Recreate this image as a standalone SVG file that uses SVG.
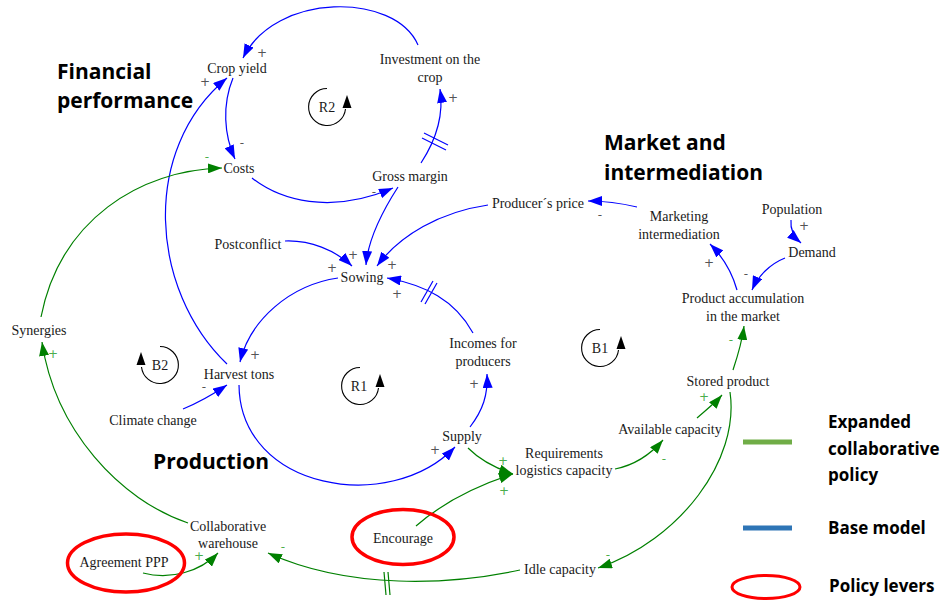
<svg xmlns="http://www.w3.org/2000/svg" width="948" height="600" viewBox="0 0 948 600">
  <style>
    .lbl { font-family: "Liberation Serif", "Times New Roman", serif; font-size: 14px; fill: #1a1a1a; text-anchor: middle; }
    .head { font-family: "Open Sans", "Liberation Sans", sans-serif; font-weight: bold; font-size: 21px; fill: #000; }
    .leg { font-family: "Open Sans", "Liberation Sans", sans-serif; font-weight: bold; font-size: 17px; fill: #000; }
    .loop { font-family: "Liberation Serif", "Times New Roman", serif; font-size: 14px; fill: #1a1a1a; text-anchor: middle; }
    .pb { font-family: "DejaVu Sans", sans-serif; font-size: 12px; fill: #555; text-anchor: middle; }
    .pg { font-family: "DejaVu Sans", sans-serif; font-size: 12px; fill: #4cae4c; text-anchor: middle; }
    .blue { fill: none; stroke: #0000ff; stroke-width: 1.2; marker-end: url(#ab); }
    .green { fill: none; stroke: #008000; stroke-width: 1.2; marker-end: url(#ag); }
    .dlyb { stroke: #0000ff; stroke-width: 1.2; }
    .dlyg { stroke: #008000; stroke-width: 1.2; }
    .lever { fill: none; stroke: #ff0000; stroke-width: 3.5; }
    .ring { fill: none; stroke: #000; stroke-width: 1.1; }
  </style>
  <defs>
    <marker id="ab" markerUnits="userSpaceOnUse" markerWidth="14" markerHeight="10" refX="14" refY="5" orient="auto">
      <path d="M0,0 L14,5 L0,10 z" fill="#0000ff"/>
    </marker>
    <marker id="ag" markerUnits="userSpaceOnUse" markerWidth="14" markerHeight="10" refX="14" refY="5" orient="auto">
      <path d="M0,0 L14,5 L0,10 z" fill="#008000"/>
    </marker>
  </defs>
  <rect width="948" height="600" fill="#fff"/>

  <!-- section headings -->
  <text class="head" x="57" y="79">Financial</text>
  <text class="head" x="57" y="108">performance</text>
  <text class="head" x="604" y="150">Market and</text>
  <text class="head" x="604" y="180">intermediation</text>
  <text class="head" x="153" y="469">Production</text>

  <!-- connectors -->
  <g id="connectors">
    <path class="blue" d="M418,45 C395,-8 275,-8 243,58"/>
    <path class="blue" d="M233,78 C222,105 224,135 235,159"/>
    <path class="blue" d="M252,178 C280,200 330,215 393,188"/>
    <path class="blue" d="M421,163 C436,140 444,115 440,89"/>
    <path class="blue" d="M398,187 C380,215 368,240 366,265"/>
    <path class="blue" d="M285,241 C310,240 335,250 352,266"/>
    <path class="blue" d="M488,205 C440,212 400,235 377,266"/>
    <path class="blue" d="M473,333 C455,300 425,285 387,278"/>
    <path class="blue" d="M338,278 C290,285 250,320 240,362"/>
    <path class="blue" d="M239,385 C240,490 390,515 455,447"/>
    <path class="blue" d="M470,427 C483,410 488,395 487,374"/>
    <path class="blue" d="M227,364 C150,290 140,150 227,78"/>
    <path class="blue" d="M183,409 C200,402 215,393 227,385"/>
    <path class="blue" d="M637,207 C620,203 605,201 588,201"/>
    <path class="blue" d="M737,290 C732,272 722,256 710,244"/>
    <path class="blue" d="M785,258 C770,264 758,276 752,290"/>
    <path class="blue" d="M791,220 C790,230 794,237 801,243"/>

    <path class="green" d="M41,317 C60,220 140,170 222,168"/>
    <path class="green" d="M188,523 C120,500 55,430 42,342"/>
    <path class="green" d="M143,573 C170,580 200,572 218,553"/>
    <path class="green" d="M520,570 C450,585 350,590 268,553"/>
    <path class="green" d="M730,392 C740,460 680,540 598,568"/>
    <path class="green" d="M697,418 C706,410 715,403 722,395"/>
    <path class="green" d="M733,370 C738,355 742,342 744,326"/>
    <path class="green" d="M615,469 C635,465 650,455 663,440"/>
    <path class="green" d="M468,448 C480,460 495,468 513,474"/>
    <path class="green" d="M416,526 C440,505 470,488 513,474"/>

    <!-- delay marks -->
    <line class="dlyb" x1="424" y1="133" x2="448" y2="145"/>
    <line class="dlyb" x1="422" y1="138" x2="446" y2="150"/>
    <line class="dlyb" x1="421" y1="302" x2="433" y2="281"/>
    <line class="dlyb" x1="425" y1="304" x2="437" y2="283"/>
    <line class="dlyg" x1="384" y1="572" x2="386" y2="595"/>
    <line class="dlyg" x1="388" y1="572" x2="390" y2="595"/>

    <!-- polarity signs -->
    <text class="pb" x="262" y="57">+</text>
    <text class="pb" x="205" y="86">+</text>
    <text class="pb" x="242" y="147">-</text>
    <text class="pb" x="374" y="196">-</text>
    <text class="pb" x="453" y="102">+</text>
    <text class="pb" x="332" y="272">+</text>
    <text class="pb" x="353" y="259">+</text>
    <text class="pb" x="392" y="269">+</text>
    <text class="pb" x="397" y="298">+</text>
    <text class="pb" x="255" y="359">+</text>
    <text class="pb" x="204" y="391">-</text>
    <text class="pb" x="435" y="454">+</text>
    <text class="pb" x="474" y="388">+</text>
    <text class="pb" x="600" y="219">-</text>
    <text class="pb" x="709" y="267">+</text>
    <text class="pb" x="746" y="278">-</text>
    <text class="pb" x="804" y="230">+</text>

    <text class="pg" x="207" y="161">-</text>
    <text class="pg" x="53" y="358">+</text>
    <text class="pg" x="199" y="560">+</text>
    <text class="pg" x="283" y="551">-</text>
    <text class="pg" x="608" y="559">-</text>
    <text class="pg" x="704" y="401">+</text>
    <text class="pg" x="731" y="344">-</text>
    <text class="pg" x="664" y="463">-</text>
    <text class="pg" x="503" y="465">+</text>
    <text class="pg" x="504" y="495">+</text>
  </g>

  <!-- loop markers -->
  <g id="loop-R2">
    <path class="ring" d="M327,88.5 A18.5,18.5 0 1 0 345.5,109"/>
    <path d="M347,95 L342.5,108 L351.5,108 z" fill="#000"/>
    <text class="loop" x="327" y="112">R2</text>
  </g>
  <g id="loop-R1">
    <path class="ring" d="M360,367.5 A18.5,18.5 0 1 0 378.5,388"/>
    <path d="M380,374 L375.5,387 L384.5,387 z" fill="#000"/>
    <text class="loop" x="359" y="391">R1</text>
  </g>
  <g id="loop-B1">
    <path class="ring" d="M600,329.5 A18.5,18.5 0 1 0 618.5,350"/>
    <path d="M621,336 L616.5,349 L625.5,349 z" fill="#000"/>
    <text class="loop" x="600" y="353">B1</text>
  </g>
  <g id="loop-B2">
    <path class="ring" d="M160,346.5 A18.5,18.5 0 1 1 141.5,367"/>
    <path d="M141,352 L136.5,365 L145.5,365 z" fill="#000"/>
    <text class="loop" x="160" y="370">B2</text>
  </g>

  <!-- nodes -->
  <g id="crop-yield"><text class="lbl" x="237" y="73">Crop yield</text></g>
  <g id="investment"><text class="lbl" x="430" y="64">Investment on the</text><text class="lbl" x="430" y="82">crop</text></g>
  <g id="costs"><text class="lbl" x="239" y="173">Costs</text></g>
  <g id="gross-margin"><text class="lbl" x="410" y="181">Gross margin</text></g>
  <g id="postconflict"><text class="lbl" x="248" y="249">Postconflict</text></g>
  <g id="sowing"><text class="lbl" x="362" y="282">Sowing</text></g>
  <g id="synergies"><text class="lbl" x="39" y="335">Synergies</text></g>
  <g id="harvest-tons"><text class="lbl" x="239" y="379">Harvest tons</text></g>
  <g id="climate-change"><text class="lbl" x="153" y="425">Climate change</text></g>
  <g id="incomes"><text class="lbl" x="483" y="348">Incomes for</text><text class="lbl" x="483" y="366">producers</text></g>
  <g id="supply"><text class="lbl" x="462" y="441">Supply</text></g>
  <g id="producers-price"><text class="lbl" x="538" y="208">Producer´s price</text></g>
  <g id="marketing"><text class="lbl" x="679" y="221">Marketing</text><text class="lbl" x="679" y="239">intermediation</text></g>
  <g id="population"><text class="lbl" x="792" y="214">Population</text></g>
  <g id="demand"><text class="lbl" x="812" y="257">Demand</text></g>
  <g id="product-accumulation"><text class="lbl" x="743" y="303">Product accumulation</text><text class="lbl" x="743" y="321">in the market</text></g>
  <g id="stored-product"><text class="lbl" x="728" y="386">Stored product</text></g>
  <g id="available-capacity"><text class="lbl" x="670" y="434">Available capacity</text></g>
  <g id="requirements"><text class="lbl" x="564" y="458">Requirements</text><text class="lbl" x="564" y="475">logistics capacity</text></g>
  <g id="idle-capacity"><text class="lbl" x="560" y="574">Idle capacity</text></g>
  <g id="encourage"><ellipse class="lever" cx="403" cy="537" rx="51" ry="27.5"/><text class="lbl" x="403" y="543">Encourage</text></g>
  <g id="collaborative-warehouse"><text class="lbl" x="228" y="531">Collaborative</text><text class="lbl" x="228" y="548">warehouse</text></g>
  <g id="agreement-ppp"><ellipse class="lever" cx="126" cy="563" rx="58.5" ry="29"/><text class="lbl" x="124" y="567">Agreement PPP</text></g>

  <!-- legend -->
  <g id="legend">
    <line x1="743" y1="442" x2="792" y2="442" stroke="#70ad47" stroke-width="5"/>
    <text class="leg" x="828" y="428">Expanded</text>
    <text class="leg" x="828" y="455">collaborative</text>
    <text class="leg" x="828" y="481">policy</text>
    <line x1="743" y1="528" x2="792" y2="528" stroke="#2e75b6" stroke-width="5"/>
    <text class="leg" x="828" y="534">Base model</text>
    <ellipse cx="766" cy="587" rx="34" ry="11.5" fill="none" stroke="#ff0000" stroke-width="3"/>
    <text class="leg" x="829" y="592">Policy levers</text>
  </g>
</svg>
